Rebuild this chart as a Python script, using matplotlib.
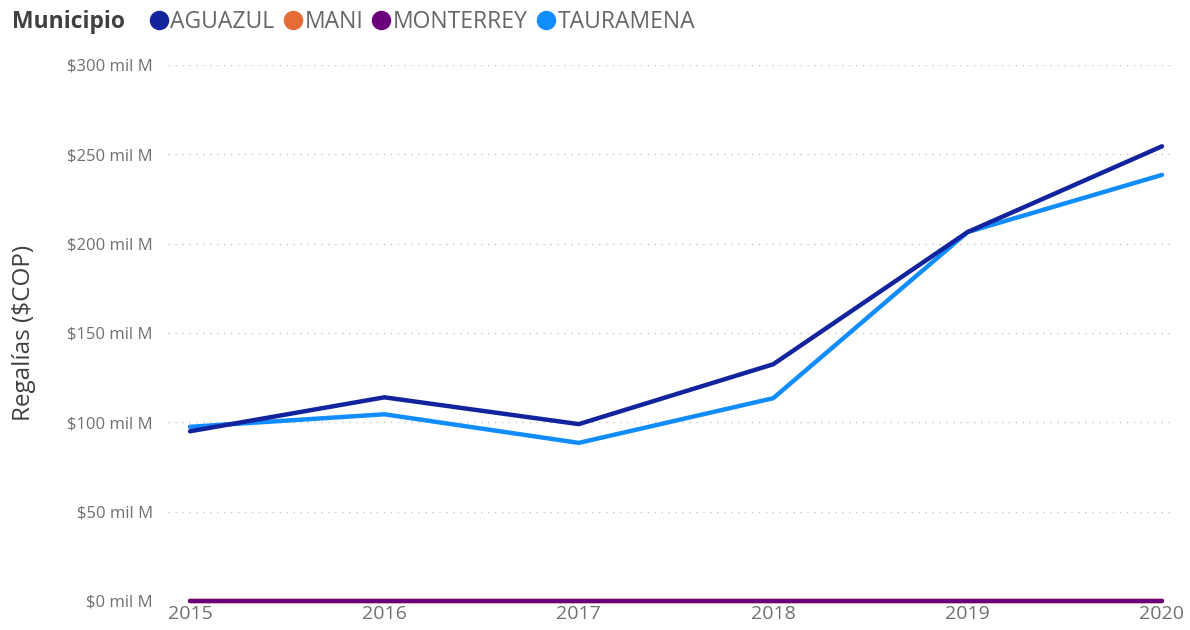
import matplotlib.pyplot as plt
from matplotlib.lines import Line2D
from matplotlib.ticker import FuncFormatter

years = [2015, 2016, 2017, 2018, 2019, 2020]
aguazul = [95, 114, 99, 132.5, 206.5, 254.5]
mani = [0, 0, 0, 0, 0, 0]
monterrey = [0, 0, 0, 0, 0, 0]
tauramena = [97.5, 104.5, 88.5, 113.5, 206.5, 238.5]

series = ["AGUAZUL", "MANI", "MONTERREY", "TAURAMENA"]
COLOR = {
    "AGUAZUL": "#12239E",
    "MANI": "#E66C37",
    "MONTERREY": "#6B007B",
    "TAURAMENA": "#118DFF",
}
DATA = {"AGUAZUL": aguazul, "MANI": mani,
        "MONTERREY": monterrey, "TAURAMENA": tauramena}

plt.rcParams["font.family"] = ["Open Sans", "DejaVu Sans"]

fig = plt.figure(figsize=(11.9, 6.3), dpi=100)
ax = fig.add_axes([168 / 1190, 29 / 630, 1004 / 1190, 536 / 630])

# draw order: MANI under MONTERREY, TAURAMENA under AGUAZUL
for name, z in [("MANI", 2), ("MONTERREY", 3), ("TAURAMENA", 4), ("AGUAZUL", 5)]:
    ax.plot(years, DATA[name], color=COLOR[name], linewidth=3.2,
            solid_capstyle="round", solid_joinstyle="round", zorder=z,
            clip_on=False)

ax.set_ylim(0, 300)
ax.set_xlim(2015 - 22 / 194.4, 2020 + 10 / 194.4)
ax.set_yticks([0, 50, 100, 150, 200, 250, 300])
ax.yaxis.set_major_formatter(FuncFormatter(lambda v, p: r"\$%d mil M" % v))
ax.set_xticks(years)
ax.tick_params(axis="y", length=0, labelsize=12, colors="#707070", pad=11)
ax.tick_params(axis="x", length=0, labelsize=14, colors="#707070", pad=3)
ax.grid(axis="y", color="#C8C6C4", linestyle=(0, (1, 4)), linewidth=1.0)
ax.set_axisbelow(True)
for s in ax.spines.values():
    s.set_visible(False)
ax.set_ylabel(r"Regalías (\$COP)", fontsize=17.5, color="#404040")
ax.yaxis.set_label_coords((36 - 168) / 1004, 0.5)

fig.text(12 / 1190, 1 - 22 / 630, "Municipio", fontsize=16.5, fontweight="bold",
         color="#404040", va="center", ha="left")
handles = [Line2D([], [], marker="o", linestyle="none", markersize=13,
                  color=COLOR[n]) for n in series]
fig.legend(handles, series, loc="center left",
           bbox_to_anchor=(136 / 1190, 1 - 22 / 630),
           ncol=4, frameon=False, fontsize=16.5, handletextpad=0.0,
           columnspacing=0.3, handlelength=1.0, borderpad=0,
           labelcolor="#666666")

fig.savefig("out.png", dpi=100)
